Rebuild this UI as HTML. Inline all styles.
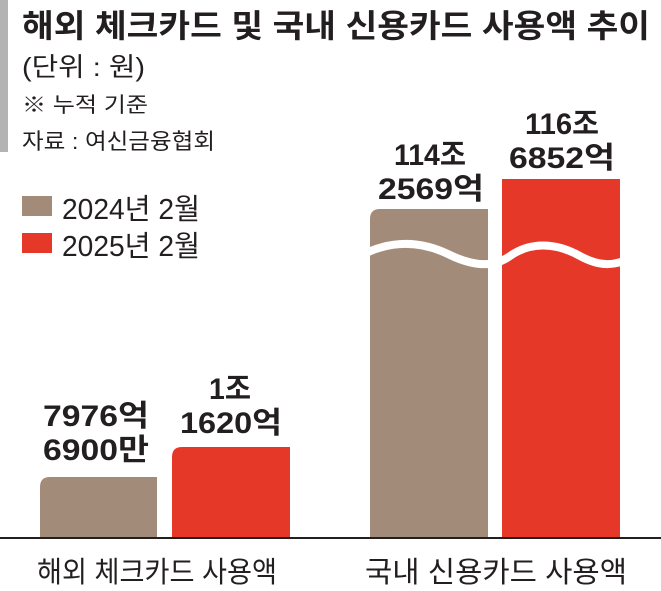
<!DOCTYPE html>
<html><head><meta charset="utf-8"><style>
html,body{margin:0;padding:0;background:#fff;}
svg{display:block;font-family:"Liberation Sans","Noto Sans CJK KR",sans-serif;}
</style></head><body>
<svg width="661" height="591" viewBox="0 0 661 591" xmlns="http://www.w3.org/2000/svg">
<rect x="0" y="0" width="8" height="152" fill="#b3b3b3"/>
<text x="22" y="37" font-size="32" font-weight="bold" fill="#231f20" textLength="628" lengthAdjust="spacingAndGlyphs">해외 체크카드 및 국내 신용카드 사용액 추이</text>
<text x="22" y="76" font-size="26" fill="#231f20" textLength="123" lengthAdjust="spacingAndGlyphs">(단위 : 원)</text>
<text x="22" y="112" font-size="21" fill="#231f20" textLength="126" lengthAdjust="spacingAndGlyphs">※ 누적 기준</text>
<text x="22" y="149" font-size="22" fill="#231f20" textLength="193" lengthAdjust="spacingAndGlyphs">자료 : 여신금융협회</text>
<rect x="22" y="196" width="30" height="20" fill="#a38b79"/>
<text x="62" y="219" font-size="29" fill="#231f20" textLength="138" lengthAdjust="spacingAndGlyphs">2024년 2월</text>
<rect x="22" y="233" width="30" height="20" fill="#e63828"/>
<text x="62" y="256" font-size="29" fill="#231f20" textLength="138" lengthAdjust="spacingAndGlyphs">2025년 2월</text>

<path d="M40 538 V487 Q40 477 50 477 H157 V538 Z" fill="#a38b79"/>
<path d="M172 538 V457 Q172 447 182 447 H290 V538 Z" fill="#e63828"/>
<path d="M370 538 V219 Q370 209 380 209 H488 V538 Z" fill="#a38b79"/>
<rect x="502" y="179" width="118" height="359" fill="#e63828"/>
<path d="M360 256 C390 240 420 240 450 255 C475 267 495 267 510 256 C530 242 555 242 580 256 C600 267 615 266 630 258" stroke="#fff" stroke-width="8" fill="none"/>
<rect x="0" y="537" width="661" height="2" fill="#231f20"/>

<g font-size="30" font-weight="bold" fill="#231f20" text-anchor="middle">
<text x="96" y="426" textLength="106" lengthAdjust="spacingAndGlyphs">7976억</text>
<text x="96" y="460" textLength="106" lengthAdjust="spacingAndGlyphs">6900만</text>
<text x="230" y="399" textLength="42" lengthAdjust="spacingAndGlyphs">1조</text>
<text x="231" y="433" textLength="102" lengthAdjust="spacingAndGlyphs">1620억</text>
<text x="430" y="165" textLength="72" lengthAdjust="spacingAndGlyphs">114조</text>
<text x="431" y="199" textLength="106" lengthAdjust="spacingAndGlyphs">2569억</text>
<text x="562" y="134" textLength="74" lengthAdjust="spacingAndGlyphs">116조</text>
<text x="562" y="168" textLength="106" lengthAdjust="spacingAndGlyphs">6852억</text>
</g>
<text x="37" y="582" font-size="29" fill="#231f20" textLength="240" lengthAdjust="spacingAndGlyphs">해외 체크카드 사용액</text>
<text x="365" y="582" font-size="29" fill="#231f20" textLength="262" lengthAdjust="spacingAndGlyphs">국내 신용카드 사용액</text>
</svg>
</body></html>
